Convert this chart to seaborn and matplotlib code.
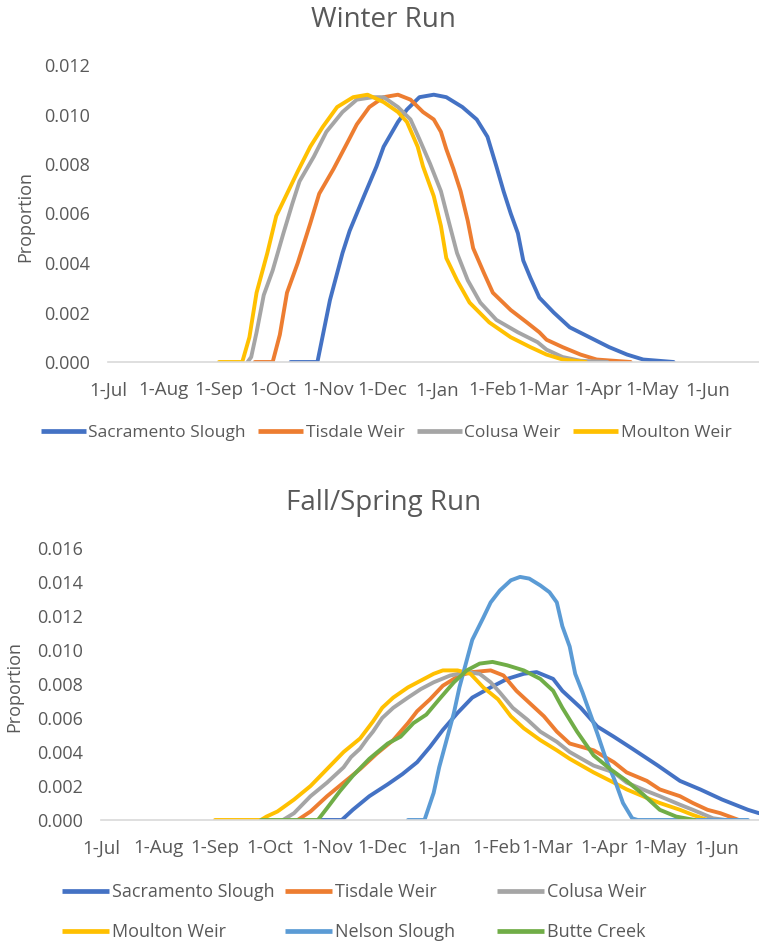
import numpy as np
import pandas as pd
import matplotlib
matplotlib.use("Agg")
import matplotlib.pyplot as plt
import matplotlib.dates as mdates
from matplotlib.lines import Line2D
from matplotlib.ticker import FuncFormatter
import seaborn as sns

# ---------------------------------------------------------------------------
# Daily proportion curves, sampled as (days after 1-Jul, proportion)
# ---------------------------------------------------------------------------
# Winter Run
w_sac_days = [102, 117, 124, 131, 135, 143, 150, 154, 162, 167, 174, 182, 189, 198, 206,
              212, 217, 221, 225, 229, 232, 236, 241, 249, 258, 269, 280, 290, 299, 316]
w_sac_vals = [0, 0, 0.0025, 0.0044, 0.0053, 0.0067, 0.0079, 0.0087, 0.0097, 0.0102, 0.0107,
              0.0108, 0.0107, 0.0103, 0.0098, 0.0091, 0.0079, 0.0069, 0.0060, 0.0052, 0.0041,
              0.0034, 0.0026, 0.0020, 0.0014, 0.0010, 0.0006, 0.0003, 0.0001, 0]

w_tis_days = [82, 92, 96, 100, 106, 113, 118, 126, 134, 139, 146, 154, 162, 169, 176, 182,
              186, 189, 193, 197, 201, 204, 210, 215, 225, 234, 241, 245, 254, 264, 273, 292]
w_tis_vals = [0, 0, 0.0011, 0.0028, 0.0040, 0.0056, 0.0068, 0.0078, 0.0089, 0.0096, 0.0103,
              0.0107, 0.0108, 0.0106, 0.0101, 0.0098, 0.0093, 0.0086, 0.0078, 0.0069, 0.0057,
              0.0046, 0.0036, 0.0028, 0.0021, 0.0016, 0.0012, 0.0009, 0.0006, 0.0003, 0.0001, 0]

w_col_days = [78, 80, 83, 87, 92, 98, 103, 107, 115, 122, 131, 139, 148, 154, 162, 169, 174,
              180, 186, 191, 195, 201, 208, 217, 229, 240, 245, 254, 264, 279]
w_col_vals = [0, 0.0002, 0.0012, 0.0027, 0.0037, 0.0052, 0.0064, 0.0073, 0.0083, 0.0093,
              0.0101, 0.0106, 0.0107, 0.0107, 0.0103, 0.0098, 0.0090, 0.0080, 0.0069, 0.0055,
              0.0044, 0.0033, 0.0024, 0.0017, 0.0012, 0.0008, 0.0005, 0.0002, 0.00005, 0]

w_mou_days = [62, 75, 79, 83, 89, 94, 100, 106, 113, 120, 128, 137, 145, 154, 162, 167, 173,
              176, 182, 186, 189, 195, 202, 213, 225, 236, 245, 254, 267]
w_mou_vals = [0, 0, 0.0010, 0.0028, 0.0044, 0.0059, 0.0068, 0.0077, 0.0087, 0.0095, 0.0103,
              0.0107, 0.0108, 0.0105, 0.0101, 0.0097, 0.0087, 0.0079, 0.0067, 0.0055, 0.0042,
              0.0033, 0.0024, 0.0016, 0.0010, 0.0006, 0.0003, 0.0001, 0]

# Fall/Spring Run
f_sac_days = [118, 131, 137, 146, 156, 164, 172, 179, 186, 194, 202, 212, 221, 230, 237, 246,
              251, 261, 270, 279, 289, 303, 315, 326, 338, 352, 358]
f_sac_vals = [0, 0, 0.0006, 0.0014, 0.0021, 0.0027, 0.0034, 0.0043, 0.0053, 0.0063, 0.0072,
              0.0078, 0.0083, 0.0086, 0.0087, 0.0083, 0.0076, 0.0066, 0.0055, 0.0049, 0.0042,
              0.0032, 0.0023, 0.0018, 0.0012, 0.0006, 0.0004]

f_tis_days = [107, 114, 123, 132, 141, 150, 159, 167, 172, 179, 186, 195, 202, 212, 219, 226,
              233, 241, 248, 255, 268, 279, 286, 297, 304, 315, 322, 330, 337, 347]
f_tis_vals = [0, 0.0005, 0.0014, 0.0022, 0.0030, 0.0039, 0.0047, 0.0057, 0.0064, 0.0071,
              0.0079, 0.0085, 0.0087, 0.0088, 0.0085, 0.0076, 0.0069, 0.0061, 0.0052, 0.0045,
              0.0041, 0.0034, 0.0028, 0.0023, 0.0018, 0.0014, 0.0010, 0.0006, 0.0004, 0]

f_col_days = [99, 105, 114, 123, 132, 136, 141, 145, 148, 153, 159, 167, 174, 181, 190, 199,
              206, 212, 217, 224, 232, 239, 248, 255, 268, 279, 286, 297, 304, 315, 322, 333, 340]
f_col_vals = [0, 0.0004, 0.0014, 0.0022, 0.0031, 0.0037, 0.0042, 0.0048, 0.0052, 0.0060,
              0.0066, 0.0072, 0.0077, 0.0081, 0.0085, 0.0087, 0.0086, 0.0081, 0.0075, 0.0066,
              0.0059, 0.0052, 0.0046, 0.0040, 0.0032, 0.0028, 0.0022, 0.0017, 0.0014, 0.0009,
              0.0006, 0.0001, 0]

f_mou_days = [62, 87, 90, 96, 105, 114, 123, 132, 141, 148, 153, 159, 167, 174, 181, 186, 194,
              201, 208, 216, 223, 230, 239, 248, 255, 268, 279, 286, 297, 304, 315, 322, 330]
f_mou_vals = [0, 0, 0.0002, 0.0005, 0.0012, 0.0020, 0.0030, 0.0040, 0.0048, 0.0058, 0.0066,
              0.0072, 0.0078, 0.0082, 0.0086, 0.0088, 0.0088, 0.0086, 0.0078, 0.0071, 0.0061,
              0.0054, 0.0047, 0.0041, 0.0036, 0.0028, 0.0022, 0.0018, 0.0013, 0.0010, 0.0006,
              0.0003, 0]

f_nel_days = [167, 176, 181, 184, 188, 192, 195, 199, 202, 208, 212, 217, 223, 228, 233, 239,
              244, 248, 251, 255, 258, 262, 266, 270, 275, 280, 284, 289, 292, 352]
f_nel_vals = [0, 0, 0.0016, 0.0031, 0.0047, 0.0063, 0.0078, 0.0094, 0.0106, 0.0119, 0.0128,
              0.0135, 0.0141, 0.0143, 0.0142, 0.0138, 0.0134, 0.0128, 0.0114, 0.0102, 0.0086,
              0.0075, 0.0063, 0.0051, 0.0035, 0.0022, 0.0010, 0.0001, 0, 0]

f_but_days = [87, 118, 123, 130, 137, 146, 156, 163, 170, 177, 184, 192, 199, 206, 213, 221,
              230, 239, 246, 251, 259, 268, 277, 286, 295, 304, 313, 323]
f_but_vals = [0, 0, 0.0007, 0.0017, 0.0026, 0.0036, 0.0045, 0.0049, 0.0057, 0.0062, 0.0071,
              0.0081, 0.0088, 0.0092, 0.0093, 0.0091, 0.0088, 0.0083, 0.0076, 0.0066, 0.0052,
              0.0038, 0.0030, 0.0023, 0.0015, 0.0006, 0.0002, 0]

winter_sites = ["Sacramento Slough", "Tisdale Weir", "Colusa Weir", "Moulton Weir"]
fall_sites = ["Sacramento Slough", "Tisdale Weir", "Colusa Weir", "Moulton Weir",
              "Nelson Slough", "Butte Creek"]

site_colors = {
    "Sacramento Slough": "#4472C4",
    "Tisdale Weir": "#ED7D31",
    "Colusa Weir": "#A5A5A5",
    "Moulton Weir": "#FFC000",
    "Nelson Slough": "#5B9BD5",
    "Butte Creek": "#70AD47",
}

START = pd.Timestamp("2018-07-01")


def long_frame(series):
    parts = []
    for site, (days, vals) in series.items():
        parts.append(pd.DataFrame({
            "date": START + pd.to_timedelta(np.asarray(days, dtype=float), unit="D"),
            "proportion": vals,
            "site": site,
        }))
    return pd.concat(parts, ignore_index=True)


winter_df = long_frame({
    "Sacramento Slough": (w_sac_days, w_sac_vals),
    "Tisdale Weir": (w_tis_days, w_tis_vals),
    "Colusa Weir": (w_col_days, w_col_vals),
    "Moulton Weir": (w_mou_days, w_mou_vals),
})
fall_df = long_frame({
    "Sacramento Slough": (f_sac_days, f_sac_vals),
    "Tisdale Weir": (f_tis_days, f_tis_vals),
    "Colusa Weir": (f_col_days, f_col_vals),
    "Moulton Weir": (f_mou_days, f_mou_vals),
    "Nelson Slough": (f_nel_days, f_nel_vals),
    "Butte Creek": (f_but_days, f_but_vals),
})

# ---------------------------------------------------------------------------
sns.set_theme(style="white")
plt.rcParams["font.family"] = ["Open Sans", "DejaVu Sans"]

TEXT = "#595959"
AXIS = "#D9D9D9"
W, H = 759, 944
LW = 2.8

fig = plt.figure(figsize=(W / 100, H / 100), dpi=100)


def px_axes(left, top, right, bottom):
    return fig.add_axes([left / W, 1 - bottom / H, (right - left) / W, (bottom - top) / H])


def style_axes(ax, ymax, xmax_days):
    ax.set_xlim(START, START + pd.Timedelta(days=xmax_days))
    ax.set_ylim(0, ymax)
    ax.set_yticks(np.arange(0, ymax + 1e-9, 0.002))
    ax.yaxis.set_major_formatter(FuncFormatter(lambda v, _: f"{v:.3f}"))
    ax.xaxis.set_major_locator(mdates.MonthLocator(bymonthday=1))
    ax.xaxis.set_major_formatter(mdates.DateFormatter("%-d-%b"))
    for side in ("top", "right", "left"):
        ax.spines[side].set_visible(False)
    ax.spines["bottom"].set_color(AXIS)
    ax.spines["bottom"].set_linewidth(1.2)
    ax.tick_params(axis="x", direction="out", length=5, width=1.0, color=AXIS,
                   pad=9, labelsize=13.5, labelcolor=TEXT)
    ax.tick_params(axis="y", length=0, pad=13, labelsize=13, labelcolor=TEXT)
    ax.set_xlabel("")
    ax.set_ylabel("")
    ax.grid(False)


# Winter Run panel
ax1 = px_axes(108, 65, 759, 362)
sns.lineplot(data=winter_df, x="date", y="proportion", hue="site", hue_order=winter_sites,
             palette=site_colors, estimator=None, linewidth=LW, legend=False, ax=ax1)
style_axes(ax1, 0.012, 363.7)

# Fall/Spring Run panel
ax2 = px_axes(101, 548, 759, 820)
sns.lineplot(data=fall_df, x="date", y="proportion", hue="site", hue_order=fall_sites,
             palette=site_colors, estimator=None, linewidth=LW, legend=False, ax=ax2)
style_axes(ax2, 0.016, 358.0)

for line in ax1.get_lines() + ax2.get_lines():
    line.set_solid_capstyle("round")
    line.set_solid_joinstyle("round")

# Titles and axis labels
fig.text(383 / W, 1 - 20 / H, "Winter Run", ha="center", va="center", fontsize=20, color=TEXT)
fig.text(384 / W, 1 - 503 / H, "Fall/Spring Run", ha="center", va="center", fontsize=20, color=TEXT)
fig.text(25 / W, 1 - 216 / H, "Proportion", ha="center", va="center", rotation=90,
         fontsize=13, color=TEXT)
fig.text(14 / W, 1 - 686 / H, "Proportion", ha="center", va="center", rotation=90,
         fontsize=13, color=TEXT)


def handle(site):
    return Line2D([], [], color=site_colors[site], linewidth=3.4, solid_capstyle="butt")


legend_kw = dict(frameon=False, handlelength=2.6, handletextpad=0.15,
                 borderpad=0, borderaxespad=0, labelcolor=TEXT)

# Winter legend: one row
fig.legend([handle(s) for s in winter_sites], winter_sites, loc="center",
           bbox_to_anchor=(386 / W, 1 - 433 / H), ncol=4, columnspacing=0.7,
           fontsize=12.5, **legend_kw)

# Fall/Spring legend: three columns of two entries
fall_columns = [(["Sacramento Slough", "Moulton Weir"], 62),
                (["Tisdale Weir", "Nelson Slough"], 285),
                (["Colusa Weir", "Butte Creek"], 497)]
for names, x0 in fall_columns:
    fig.legend([handle(s) for s in names], names, loc="center left",
               bbox_to_anchor=(x0 / W, 1 - 912 / H), ncol=1, labelspacing=1.2,
               fontsize=13, **legend_kw)

fig.savefig("out.png", dpi=100)
